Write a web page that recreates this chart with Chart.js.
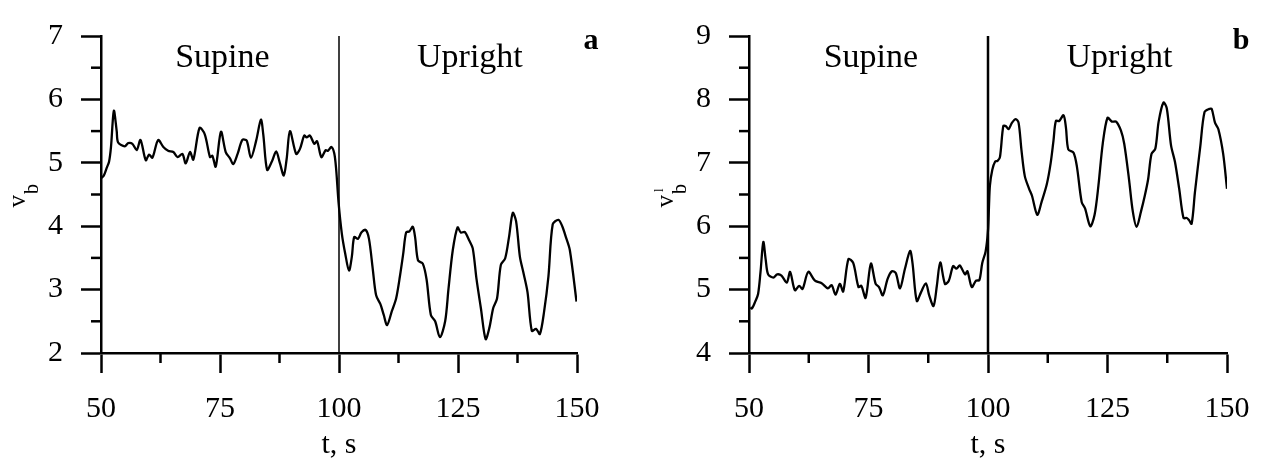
<!DOCTYPE html>
<html><head><meta charset="utf-8">
<script src="https://cdn.jsdelivr.net/npm/chart.js@4"></script>
<style>
html,body{margin:0;padding:0;background:#fff;}
#wrap{position:relative;width:1269px;height:463px;background:#fff;}
.box{position:absolute;top:0;height:463px;}
</style></head><body>
<div id="wrap">
<div class="box" style="left:0;width:634px"><canvas id="ca" width="634" height="463"></canvas></div>
<div class="box" style="left:634px;width:635px"><canvas id="cb" width="635" height="463"></canvas></div>
</div>
<script>
// ---- data (panel a: v_b) ----
const tA=[50.1,50.6,51.2,51.7,52.1,52.7,53.3,53.6,55.0,55.7,56.6,57.5,58.3,59.4,60.1,60.8,62.0,63.1,64.1,65.2,66.1,67.1,67.8,68.7,69.4,70.7,71.8,72.9,73.4,74.1,75.2,76.2,77.1,77.8,78.7,79.7,80.6,81.5,82.6,83.6,84.1,84.9,85.9,86.8,87.6,88.4,89.0,89.7,91.0,91.8,92.7,93.2,93.9,94.8,95.4,96.3,97.2,97.7,98.4,99.0,99.4,99.9,100.6,101.3,102.1,102.7,103.2,104.0,104.7,105.6,106.3,107.1,107.8,108.7,109.4,110.1,111.1,112.0,112.8,113.5,114.1,114.8,115.5,116.0,116.6,117.6,118.4,119.3,120.2,121.2,122.3,123.0,123.9,124.9,125.6,126.4,127.4,128.1,128.9,129.8,130.8,131.6,132.4,133.2,134.0,134.9,135.7,136.5,137.2,138.0,138.7,139.6,140.5,141.4,142.2,143.1,144.0,144.9,146.1,146.9,147.7,148.5,149.9];
const vA=[4.76,4.80,4.92,5.02,5.25,5.82,5.50,5.32,5.26,5.31,5.30,5.20,5.36,5.04,5.13,5.08,5.36,5.25,5.19,5.17,5.09,5.14,4.99,5.17,5.05,5.55,5.45,5.09,5.11,4.94,5.49,5.17,5.07,4.98,5.14,5.36,5.35,5.08,5.35,5.68,5.44,4.89,5.02,5.18,4.99,4.80,5.06,5.50,5.14,5.22,5.43,5.40,5.43,5.30,5.34,5.09,5.20,5.19,5.25,5.15,4.90,4.38,3.88,3.57,3.30,3.52,3.83,3.80,3.90,3.94,3.80,3.32,2.91,2.77,2.60,2.44,2.66,2.86,3.21,3.57,3.90,3.92,3.99,3.82,3.46,3.41,3.16,2.60,2.50,2.25,2.50,3.01,3.62,3.98,3.90,3.91,3.77,3.65,3.16,2.71,2.22,2.40,2.71,2.86,3.39,3.49,3.82,4.21,4.08,3.52,3.28,2.96,2.35,2.38,2.30,2.66,3.21,4.03,4.10,4.00,3.82,3.62,2.81];
// ---- data (panel b: v_b^l) ----
const tB=[50.3,50.6,51.3,51.9,52.4,53.0,53.5,54.0,55.1,55.9,56.8,57.9,58.6,59.6,60.5,61.2,62.4,63.8,65.2,66.5,67.3,68.1,69.0,69.7,70.8,71.8,72.9,73.5,74.4,75.5,76.5,77.2,78.0,79.0,79.9,80.7,81.6,82.6,83.7,84.2,85.1,86.0,87.0,87.7,88.6,89.3,90.0,91.0,91.8,92.7,93.4,94.1,95.2,95.7,96.6,97.5,98.2,98.8,99.5,100.0,100.2,100.4,100.9,101.5,102.0,102.5,103.2,103.7,104.3,105.0,105.8,106.4,107.0,107.7,108.6,109.2,110.3,111.2,112.3,113.1,113.7,114.2,114.9,115.8,116.3,116.8,117.9,118.6,119.6,120.3,121.4,122.3,123.1,124.0,125.0,125.9,126.8,127.8,128.5,129.5,130.3,131.1,132.0,132.8,133.5,134.2,135.0,135.7,136.7,137.4,138.3,139.1,140.0,140.9,141.6,142.0,142.6,143.3,144.4,145.3,146.3,146.8,147.5,148.2,149.2,150.0];
const vB=[4.72,4.70,4.81,4.93,5.27,5.75,5.47,5.24,5.19,5.24,5.22,5.11,5.28,4.99,5.06,5.01,5.28,5.14,5.10,5.02,5.07,4.92,5.09,4.97,5.48,5.42,5.04,5.06,4.87,5.41,5.09,5.04,4.91,5.17,5.29,5.26,5.02,5.32,5.61,5.42,4.82,4.96,5.10,4.91,4.74,5.06,5.43,5.09,5.14,5.37,5.33,5.38,5.24,5.29,5.04,5.14,5.15,5.42,5.60,5.93,6.30,6.64,6.89,7.02,7.03,7.09,7.58,7.58,7.53,7.63,7.69,7.63,7.20,6.79,6.59,6.48,6.18,6.38,6.66,6.99,7.35,7.66,7.66,7.75,7.56,7.21,7.16,6.94,6.38,6.28,6.00,6.18,6.64,7.30,7.71,7.65,7.65,7.51,7.30,6.74,6.23,5.99,6.23,6.48,6.74,7.14,7.22,7.65,7.95,7.86,7.27,7.02,6.59,6.13,6.13,6.10,6.04,6.54,7.25,7.80,7.85,7.85,7.63,7.53,7.14,6.59];
// ---- ticks & labels ----
const xTicks=[50,75,100,125,150];
const xMinor=[62.5,87.5,112.5,137.5];
const yTicksA=[2,3,4,5,6,7];
const yTicksB=[4,5,6,7,8,9];
const phaseNames=['Supine','Upright'];
const phaseCenters=[75.5,127.5];
const switchT=100;
const xTitle='t, s';

const SERIF='"Liberation Serif", "Times New Roman", serif';

function makeChart(id, t, v, yTicks, yLab, tag, yAxisW, rightPad, sepW){
  const yMin=yTicks[0], yMax=yTicks[yTicks.length-1];
  const yMinor=yTicks.slice(0,-1).map(x=>x+0.5);
  const decor={
    id:'decor'+id,
    afterDraw(chart){
      const ctx=chart.ctx, xs=chart.scales.x, ys=chart.scales.y, ca=chart.chartArea;
      ctx.save();
      ctx.strokeStyle='#000'; ctx.lineWidth=2.5;
      xMinor.forEach(m=>{const p=xs.getPixelForValue(m);ctx.beginPath();ctx.moveTo(p,ca.bottom);ctx.lineTo(p,ca.bottom+10);ctx.stroke();});
      yMinor.forEach(m=>{const p=ys.getPixelForValue(m);ctx.beginPath();ctx.moveTo(ca.left,p);ctx.lineTo(ca.left-10,p);ctx.stroke();});
      ctx.fillStyle='#000';
      ctx.textAlign='center'; ctx.textBaseline='alphabetic';
      ctx.font='34px '+SERIF;
      phaseNames.forEach((n,i)=>ctx.fillText(n, xs.getPixelForValue(phaseCenters[i]), ca.top+31));
      ctx.font='bold 30px '+SERIF;
      ctx.fillText(tag, ca.right+14, ca.top+13);
      // y axis label with subscript / superscript
      const mid=(ca.top+ca.bottom)/2;
      ctx.translate(ca.left-76, mid+13);
      ctx.rotate(-Math.PI/2);
      ctx.textAlign='left';
      ctx.font='25px '+SERIF;
      ctx.fillText(yLab[0],0,0);
      const w=ctx.measureText(yLab[0]).width;
      ctx.font='20px '+SERIF;
      ctx.fillText(yLab[1],w+1,13);
      if(yLab[2]){ctx.font='13px '+SERIF;ctx.fillText(yLab[2],w+3,-10);}
      ctx.restore();
    }
  };
  const tickFont={family:SERIF,size:30};
  return new Chart(document.getElementById(id),{
    type:'line',
    data:{datasets:[
      {data:t.map((x,i)=>({x:x,y:v[i]})),borderColor:'#000',borderWidth:2.3,pointRadius:0,tension:0.3,fill:false},
      {data:[{x:switchT,y:yMin},{x:switchT,y:yMax}],borderColor:'#000',borderWidth:sepW,pointRadius:0,tension:0,fill:false}
    ]},
    options:{
      responsive:false,animation:false,
      layout:{padding:{top:25,right:rightPad,bottom:0,left:0}},
      plugins:{legend:{display:false},tooltip:{enabled:false}},
      scales:{
        x:{type:'linear',min:50,max:150,
          afterBuildTicks:s=>{s.ticks=xTicks.map(x=>({value:x}));},
          ticks:{font:tickFont,color:'#000',padding:18,maxRotation:0,autoSkip:false},
          grid:{drawOnChartArea:false,drawTicks:true,tickLength:20,tickColor:'#000',tickWidth:2.5},
          border:{display:true,color:'#000',width:2.5},
          title:{display:true,text:xTitle,font:tickFont,color:'#000',padding:{top:0,bottom:0}},
          afterFit:s=>{s.height=110;}
        },
        y:{type:'linear',min:yMin,max:yMax,
          afterBuildTicks:s=>{s.ticks=yTicks.map(x=>({value:x}));},
          ticks:{font:tickFont,color:'#000',padding:18,autoSkip:false},
          grid:{drawOnChartArea:false,drawTicks:true,tickLength:20,tickColor:'#000',tickWidth:2.5},
          border:{display:true,color:'#000',width:2.5},
          afterFit:s=>{s.width=yAxisW;}
        }
      }
    },
    plugins:[decor]
  });
}
makeChart('ca',tA,vA,yTicksA,['v','b'],'a',101,57,1.5);
makeChart('cb',tB,vB,yTicksB,['v','b','l'],'b',115,42,2.5);
</script>
</body></html>
